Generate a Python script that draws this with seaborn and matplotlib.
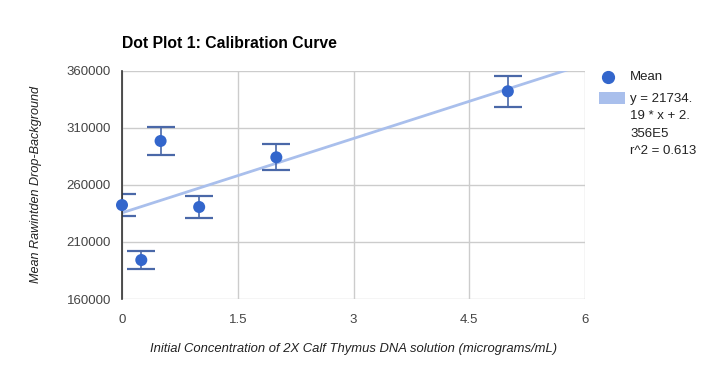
import numpy as np
import pandas as pd
import matplotlib
matplotlib.use('Agg')
import matplotlib.pyplot as plt
import seaborn as sns
from matplotlib.lines import Line2D
from matplotlib.patches import Rectangle

# values
concentration = [0, 0.25, 0.5, 1, 2, 5]
mean_signal = [242400, 194200, 298600, 240700, 284300, 342200]
error = [9800, 7800, 12000, 9650, 11400, 13750]
slope = 21734.19
intercept = 2.356e5
r_squared = 0.613
x_ticks = [0, 1.5, 3, 4.5, 6]
y_ticks = [160000, 210000, 260000, 310000, 360000]

df = pd.DataFrame({'conc': concentration, 'mean': mean_signal, 'err': error})
trend_x = np.linspace(0, 6, 50)
trend = pd.DataFrame({'conc': trend_x, 'fit': slope * trend_x + intercept})

sns.set_style('white')
plt.rcParams['font.family'] = ['Liberation Sans', 'DejaVu Sans']

W, H = 707, 371
fig = plt.figure(figsize=(W / 100, H / 100), dpi=100)
ax = fig.add_axes([122 / W, 1 - 299 / H, 463 / W, 228 / H])

dot_color = '#3366cc'
bar_color = '#4a68a8'
line_color = '#a9bfec'

sns.lineplot(data=trend, x='conc', y='fit', ax=ax, color=line_color, lw=2, zorder=2)
ax.errorbar(df['conc'], df['mean'], yerr=df['err'], fmt='none', ecolor=bar_color,
            elinewidth=1.2, capsize=10, capthick=1.6, zorder=3)
sns.scatterplot(data=df, x='conc', y='mean', ax=ax, color=dot_color, s=75,
                edgecolor='none', zorder=6, clip_on=False)

ax.set_xlim(0, 6)
ax.set_ylim(160000, 360000)
ax.set_xticks(x_ticks)
ax.set_xticklabels(['0', '1.5', '3', '4.5', '6'])
ax.set_yticks(y_ticks)
ax.set_yticklabels([str(v) for v in y_ticks])
ax.grid(True, color='#cccccc', lw=1)
ax.set_axisbelow(True)
for side in ['top', 'right', 'bottom']:
    ax.spines[side].set_visible(False)
ax.spines['left'].set_color('#333333')
ax.spines['left'].set_linewidth(1.2)
ax.spines['left'].set_zorder(5)
ax.tick_params(axis='both', length=0, labelsize=9.5, colors='#444444')
ax.tick_params(axis='x', pad=11)
ax.tick_params(axis='y', pad=8)

ax.set_xlabel('Initial Concentration of 2X Calf Thymus DNA solution (micrograms/mL)',
              fontsize=9.4, style='italic', color='#222222', labelpad=12)
ax.set_ylabel('Mean Rawintden Drop-Background', fontsize=9.1, style='italic',
              color='#222222', labelpad=18)

fig.text(122 / W, 1 - 43 / H, 'Dot Plot 1: Calibration Curve', fontsize=11.3,
         fontweight='bold', color='#000000', va='center', ha='left')

# legend drawn by hand so the trend swatch sits beside the first text line
fig.add_artist(Line2D([608 / W], [1 - 77 / H], marker='o', ls='none',
                      color=dot_color, markersize=8.5, transform=fig.transFigure))
fig.text(630 / W, 1 - 77 / H, 'Mean', fontsize=9.5, color='#222222', va='center')
fig.add_artist(Rectangle((599 / W, 1 - 104 / H), 26 / W, 12 / H,
                         facecolor=line_color, edgecolor='none',
                         transform=fig.transFigure))
trend_label = 'y = 21734.\n19 * x + 2.\n356E5\nr^2 = %.3f' % r_squared
fig.text(630 / W, 1 - 93 / H, trend_label, fontsize=9.5, color='#222222',
         va='top', linespacing=1.6)

fig.savefig('out.png', dpi=100)
